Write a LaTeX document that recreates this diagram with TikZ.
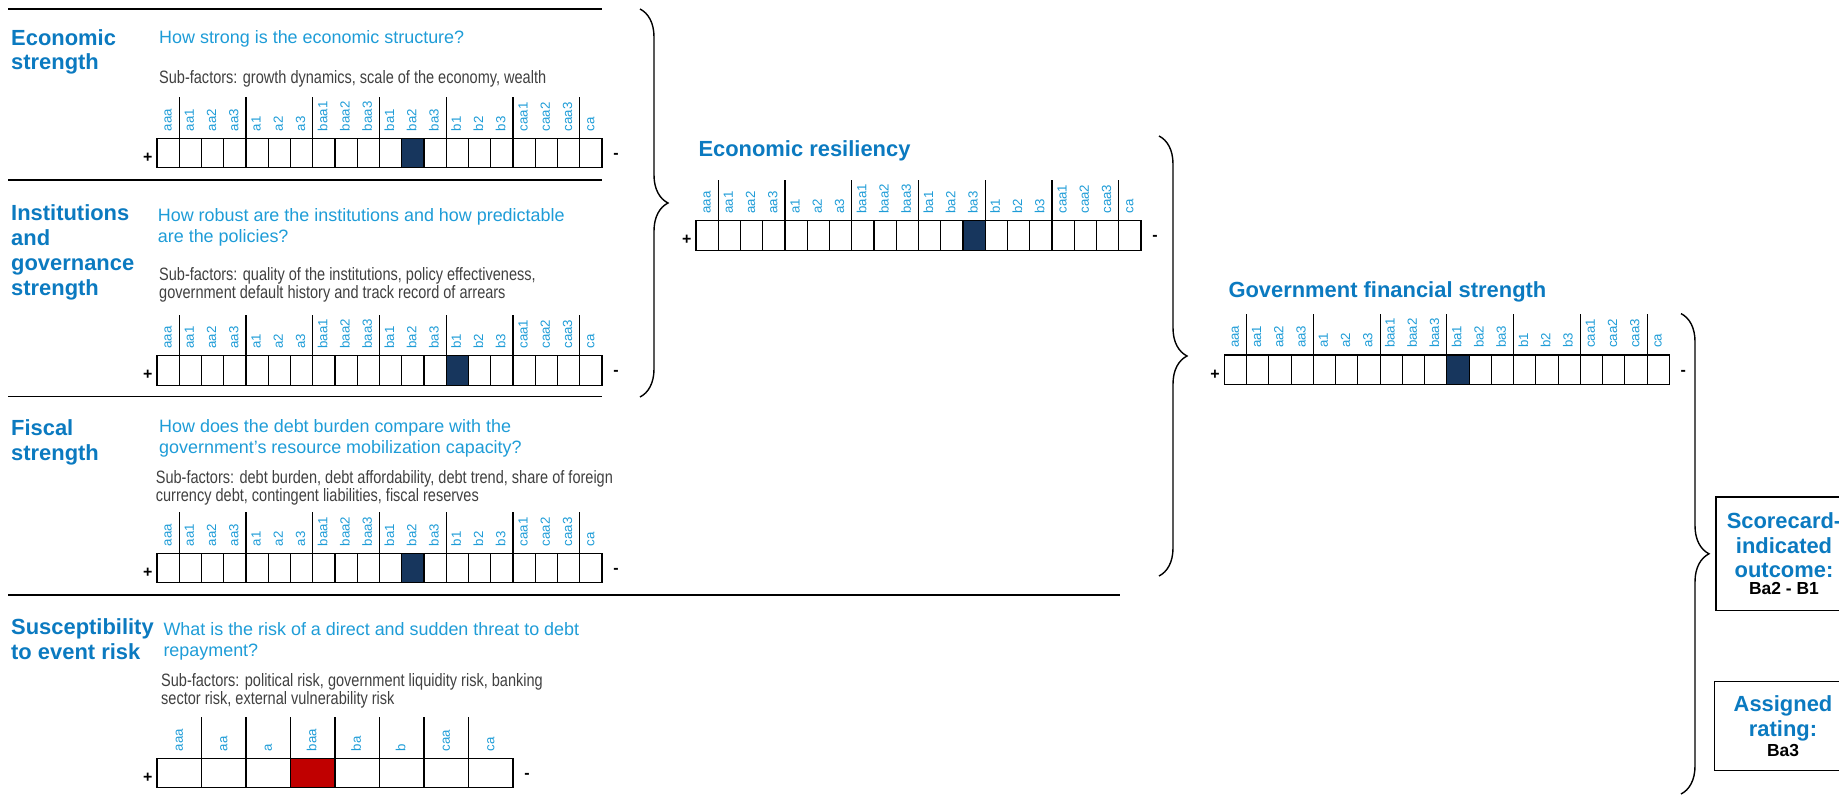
\documentclass[tikz,border=0pt]{standalone}
\usepackage{fontspec}
\setmainfont{Liberation Sans}
\newfontfamily\condfont[FakeStretch=0.81]{Liberation Sans}
\usetikzlibrary{decorations.pathreplacing}
\definecolor{titleblue}{RGB}{11,122,192}
\definecolor{askblue}{RGB}{30,156,215}
\definecolor{subgray}{RGB}{64,64,64}
\definecolor{navy}{RGB}{23,54,93}
\definecolor{ratingred}{RGB}{192,0,0}
\newcommand{\finescale}{aaa,aa1,aa2,aa3,a1,a2,a3,baa1,baa2,baa3,ba1,ba2,ba3,b1,b2,b3,caa1,caa2,caa3,ca}
\newcommand{\broadscale}{aaa,aa,a,baa,ba,b,caa,ca}
\newcommand{\ratingscale}[9]{%
  \foreach \lab [count=\i from 0] in #8 {
    \ifnum\i=#6 \def\cellcol{#7}\else \def\cellcol{white}\fi
    \node[cell, minimum width=#4bp, fill=\cellcol] (#1-\i) at ({#2+(\i+0.5)*#4}, {#3+14.75}) {};
    \node[scalelabel] (#1-l\i) at ([xshift=3.5bp, yshift=7bp]#1-\i.north) {\lab};
  }
  \foreach \k in {#9} \draw[sep] (#1-\k.north west) -- ++(0,-41);
  \node[sign] (#1-plus) at ({#2-9.3}, {#3+19.5}) {+};
  \node[sign] (#1-minus) at ({#2+#5*#4+14}, {#3+17.5}) {-};
}

\begin{document}
\begin{tikzpicture}[x=1bp,y=-1bp]
\tikzset{cell/.style = {draw, line width=1.1bp, minimum height=29.5bp, inner sep=0, outer sep=0}}
\tikzset{scalelabel/.style = {rotate=90, anchor=base west, inner sep=0, text=askblue, font=\fontsize{13.3}{14}\selectfont}}
\tikzset{sep/.style = {line width=1.1bp}}
\tikzset{sign/.style = {inner sep=0, font=\bfseries\fontsize{16}{16}\selectfont}}
\tikzset{factor/.style = {anchor=base west, inner sep=0, align=left, text=titleblue, font=\bfseries\fontsize{22}{25}\selectfont}}
\tikzset{ask/.style = {anchor=base west, inner sep=0, align=left, text=askblue, font=\fontsize{18}{21}\selectfont}}
\tikzset{subf/.style = {anchor=base west, inner sep=0, align=left, text=subgray, font=\condfont\fontsize{18}{18.3}\selectfont}}
\tikzset{rule/.style = {line width=1.4bp}}
\tikzset{bracket/.style = {decorate, decoration={brace, amplitude=28bp}, line width=1.4bp}}
\tikzset{resultbox/.style = {draw, line width=1.4bp, align=center, inner sep=0, text=titleblue, font=\bfseries\fontsize{22}{24.6}\selectfont}}
\path[use as bounding box, clip] (0,0) rectangle (1839,795);

\draw[rule] (8,9) -- (602,9);
\draw[rule] (8,180) -- (602,180);
\draw[rule] (8,396.5) -- (602,396.5);
\draw[rule] (8,595) -- (1120,595);

\node[factor] (es-name) at (11,70) {Economic\\strength};
\node[ask] (es-ask) at (159,43.3) {How strong is the economic structure?};
\node[subf] (es-sub) at (159,83.3) {Sub-factors: growth dynamics, scale of the economy, wealth};
\ratingscale{es}{157}{138.3}{22.25}{20}{11}{navy}{\finescale}{1,4,...,19}

\node[factor] (ig-name) at (11,295) {Institutions\\and\\governance\\strength};
\node[ask] (ig-ask) at (157.7,242.3) {How robust are the institutions and how predictable\\are the policies?};
\node[subf] (ig-sub) at (159,298.3) {Sub-factors: quality of the institutions, policy effectiveness,\\government default history and track record of arrears};
\ratingscale{ig}{157}{355.7}{22.25}{20}{13}{navy}{\finescale}{1,4,...,19}

\node[factor] (fs-name) at (11,460) {Fiscal\\strength};
\node[ask] (fs-ask) at (159,453.3) {How does the debt burden compare with the\\government's resource mobilization capacity?};
\node[subf] (fs-sub) at (155.7,501.7) {Sub-factors: debt burden, debt affordability, debt trend, share of foreign\\currency debt, contingent liabilities, fiscal reserves};
\ratingscale{fs}{157}{553.3}{22.25}{20}{11}{navy}{\finescale}{1,4,...,19}

\node[factor] (ev-name) at (11,659.3) {Susceptibility\\to event risk};
\node[ask] (ev-ask) at (163.3,656.7) {What is the risk of a direct and sudden threat to debt\\repayment?};
\node[subf] (ev-sub) at (161,704.3) {Sub-factors: political risk, government liquidity risk, banking\\sector risk, external vulnerability risk};
\ratingscale{ev}{157}{758.3}{44.5}{8}{3}{ratingred}{\broadscale}{1,...,7}

\draw[bracket] (640,9) -- (640,397);
\node[factor] (er-name) at (698.3,156) {Economic resiliency};
\ratingscale{er}{696}{220.7}{22.25}{20}{12}{navy}{\finescale}{1,4,...,19}

\draw[bracket] (1159,136) -- (1159,576);
\node[factor] (gfs-name) at (1228.3,297.3) {Government financial strength};
\ratingscale{gfs}{1224.3}{355}{22.25}{20}{10}{navy}{\finescale}{1,4,...,19}

\draw[bracket] (1681,313.6) -- (1681,794);
\node[resultbox, minimum width=136bp, minimum height=113.6bp] (outcome) at (1784,553.6) {Scorecard-\\indicated\\outcome:\\[-8bp]{\color{black}\fontsize{17.5}{17}\selectfont Ba2 - B1}};
\node[resultbox, minimum width=137bp, minimum height=88.6bp] (assigned) at (1783,726) {Assigned\\rating:\\[-4.6bp]{\color{black}\fontsize{17.5}{17}\selectfont Ba3}};
\end{tikzpicture}
\end{document}
